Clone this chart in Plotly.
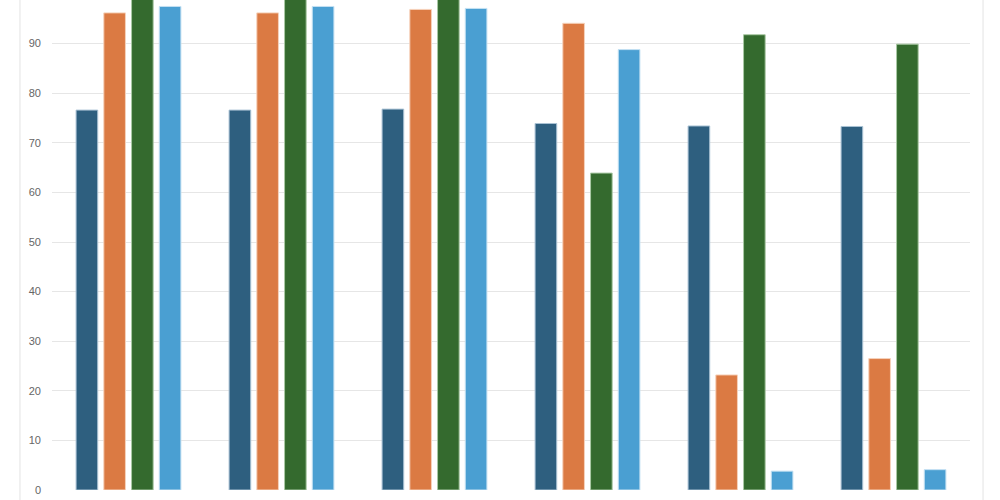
import plotly.graph_objects as go

# group labels (not shown on the chart)
groups = ["G1", "G2", "G3", "G4", "G5", "G6"]

series_a = [76.6, 76.6, 76.8, 73.9, 73.4, 73.3]
series_b = [96.2, 96.2, 96.9, 94.1, 23.2, 26.5]
series_c = [100.0, 100.0, 100.0, 63.9, 91.8, 89.9]
series_d = [97.5, 97.5, 97.1, 88.8, 3.8, 4.1]

series_names = ["A", "B", "C", "D"]
colors = ["#2e5f7f", "#db7a43", "#346a2e", "#4a9fd2"]
outlines = ["#a9c2d4", "#f6d2bb", "#a9c9a4", "#c4e1f3"]

fig = go.Figure()
for name, vals, col, line_col in zip(series_names, [series_a, series_b, series_c, series_d], colors, outlines):
    fig.add_trace(go.Bar(
        x=groups,
        y=vals,
        name=name,
        marker=dict(color=col, line=dict(color=line_col, width=1)),
    ))

fig.update_layout(
    width=1000,
    height=500,
    barmode="group",
    bargap=0.275,
    bargroupgap=0.22,
    showlegend=False,
    plot_bgcolor="white",
    paper_bgcolor="white",
    margin=dict(l=52, r=30, t=0, b=10),
    font=dict(family="Liberation Sans, Arial, sans-serif", size=11, color="#666666"),
    xaxis=dict(showticklabels=False, showgrid=False, zeroline=False, showline=False, ticks=""),
    yaxis=dict(
        range=[0, 98.8],
        dtick=10,
        showgrid=True,
        gridcolor="#e6e6e6",
        gridwidth=1,
        zeroline=False,
        showline=False,
        ticks="",
        ticklabelstandoff=10,
    ),
)

# light frame lines at both sides of the container
for xp in [-0.0349, 1.0142]:
    fig.add_shape(type="line", xref="paper", yref="paper",
                  x0=xp, x1=xp, y0=-0.03, y1=1.0,
                  line=dict(color="#e3e3e3", width=1))

fig.write_html("out.html", config={"displayModeBar": False},
               post_script="document.body.style.margin='0px';")
